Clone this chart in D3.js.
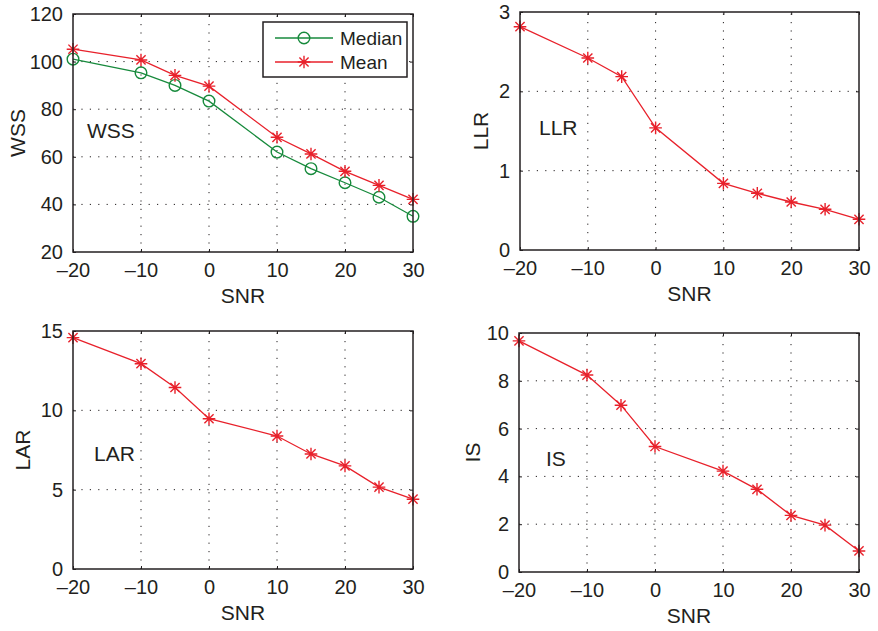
<!DOCTYPE html>
<html>
<head>
<meta charset="utf-8">
<script src="https://cdn.jsdelivr.net/npm/d3@7/dist/d3.min.js"></script>
<style>
  html, body { margin: 0; padding: 0; background: #fff; }
  svg { display: block; font-family: "Liberation Sans", Arial, Helvetica, sans-serif; }
  .tick text { fill: #231f20; }
</style>
</head>
<body>
<svg id="chart" width="878" height="631"></svg>
<script>
// SNR levels (dB) shared by every panel
const snr = [-20, -10, -5, 0, 10, 15, 20, 25, 30];
const snrTicks = [-20, -10, 0, 10, 20, 30];

// Objective speech-quality measures versus SNR
const wssMedian = [101, 95.3, 90, 83.4, 62, 55, 49.1, 43, 35];
const wssMean   = [105.2, 100.7, 94.2, 89.7, 68.2, 61.2, 53.9, 48, 42.1];
const llrMean   = [2.815, 2.42, 2.185, 1.54, 0.84, 0.715, 0.605, 0.513, 0.387];
const larMean   = [14.58, 12.94, 11.44, 9.47, 8.38, 7.25, 6.5, 5.16, 4.4];
const isMean    = [9.67, 8.24, 6.98, 5.25, 4.22, 3.46, 2.37, 1.96, 0.88];

// Y-axis ticks for each panel
const wssTicks = [20, 40, 60, 80, 100, 120];
const llrTicks = [0, 1, 2, 3];
const larTicks = [0, 5, 10, 15];
const isTicks  = [0, 2, 4, 6, 8, 10];

const RED = "#e8212b";
const GREEN = "#178a3c";
const INK = "#231f20";

const svg = d3.select("#chart");

const panels = [
  { name: "WSS", box: [73, 14, 413, 252], yDomain: [20, 120], yTicks: wssTicks,
    series: [{ values: wssMedian, color: GREEN, marker: "circle" },
             { values: wssMean, color: RED, marker: "star" }],
    ylabelX: 17, note: [87, 138], legend: true },
  { name: "LLR", box: [520, 12, 859, 250], yDomain: [0, 3], yTicks: llrTicks,
    series: [{ values: llrMean, color: RED, marker: "star" }],
    ylabelX: 480, note: [539, 135] },
  { name: "LAR", box: [73, 331, 413, 569], yDomain: [0, 15], yTicks: larTicks,
    series: [{ values: larMean, color: RED, marker: "star" }],
    ylabelX: 22, note: [94, 461] },
  { name: "IS", box: [519, 333, 859, 572], yDomain: [0, 10], yTicks: isTicks,
    series: [{ values: isMean, color: RED, marker: "star" }],
    ylabelX: 472, note: [546, 466] }
];

function drawMarker(sel, type, color) {
  if (type === "circle") {
    sel.append("circle").attr("r", 5.8)
      .attr("fill", "none").attr("stroke", color).attr("stroke-width", 1.4);
  } else {
    const r = 6.3, d = 4.6;
    sel.append("path")
      .attr("d", `M${-r},0H${r}M0,${-r}V${r}M${-d},${-d}L${d},${d}M${-d},${d}L${d},${-d}`)
      .attr("fill", "none").attr("stroke", color).attr("stroke-width", 1.4);
  }
}

panels.forEach(p => {
  const [x0, y0, x1, y1] = p.box;
  const x = d3.scaleLinear().domain([-20, 30]).range([x0, x1]);
  const y = d3.scaleLinear().domain(p.yDomain).range([y1, y0]);
  const g = svg.append("g");

  // dotted grid
  const grid = g.append("g").attr("stroke", INK).attr("stroke-width", 1)
    .attr("stroke-dasharray", "1.2,7.2");
  snrTicks.slice(1, -1).forEach(t => {
    grid.append("line").attr("x1", x(t)).attr("x2", x(t)).attr("y1", y1).attr("y2", y0);
  });
  p.yTicks.slice(1, -1).forEach(t => {
    grid.append("line").attr("x1", x0).attr("x2", x1).attr("y1", y(t)).attr("y2", y(t));
  });

  // axes with inward ticks
  const fmt = v => (v < 0 ? "\u2013" + Math.abs(v) : String(v));
  const styleAxis = a => {
    a.select(".domain").remove();
    a.selectAll(".tick line").attr("stroke", INK).attr("stroke-width", 1);
    a.selectAll(".tick text").attr("font-size", 20).attr("fill", INK);
  };
  g.append("g").attr("transform", `translate(0,${y1})`)
    .call(d3.axisBottom(x).tickValues(snrTicks).tickFormat(fmt).tickSize(-3).tickPadding(11))
    .call(styleAxis);
  g.append("g").attr("transform", `translate(0,${y0})`)
    .call(d3.axisTop(x).tickValues(snrTicks).tickFormat("").tickSize(-3))
    .call(styleAxis);
  g.append("g").attr("transform", `translate(${x0},0)`)
    .call(d3.axisLeft(y).tickValues(p.yTicks).tickFormat(fmt).tickSize(-3).tickPadding(10))
    .call(styleAxis);
  g.append("g").attr("transform", `translate(${x1},0)`)
    .call(d3.axisRight(y).tickValues(p.yTicks).tickFormat("").tickSize(-3))
    .call(styleAxis);

  // series
  p.series.forEach(s => {
    const pts = snr.map((v, i) => [v, s.values[i]]);
    g.append("path").datum(pts)
      .attr("d", d3.line().x(d => x(d[0])).y(d => y(d[1])))
      .attr("fill", "none").attr("stroke", s.color).attr("stroke-width", 1.3);
    g.selectAll(null).data(pts).enter().append("g")
      .attr("transform", d => `translate(${x(d[0])},${y(d[1])})`)
      .each(function () { drawMarker(d3.select(this), s.marker, s.color); });
  });

  // frame
  g.append("rect").attr("x", x0).attr("y", y0).attr("width", x1 - x0).attr("height", y1 - y0)
    .attr("fill", "none").attr("stroke", INK).attr("stroke-width", 1.5);

  // labels
  g.append("text").attr("x", (x0 + x1) / 2).attr("y", y1 + 51)
    .attr("text-anchor", "middle").attr("font-size", 21).attr("fill", INK).text("SNR");
  g.append("text")
    .attr("transform", `translate(${p.ylabelX + 7.5},${(y0 + y1) / 2}) rotate(-90)`)
    .attr("text-anchor", "middle").attr("font-size", 21).attr("fill", INK).text(p.name);
  g.append("text").attr("x", p.note[0]).attr("y", p.note[1])
    .attr("font-size", 21).attr("fill", INK).text(p.name);

  // legend
  if (p.legend) {
    const lg = g.append("g");
    lg.append("rect").attr("x", 263).attr("y", 22).attr("width", 144).attr("height", 55)
      .attr("fill", "#fff").attr("stroke", INK).attr("stroke-width", 1.5);
    const items = [["Median", GREEN, "circle", 38], ["Mean", RED, "star", 62]];
    items.forEach(([label, color, marker, ly]) => {
      lg.append("line").attr("x1", 275).attr("x2", 333).attr("y1", ly).attr("y2", ly)
        .attr("stroke", color).attr("stroke-width", 1.3);
      drawMarker(lg.append("g").attr("transform", `translate(304,${ly})`), marker, color);
      lg.append("text").attr("x", 340).attr("y", ly + 7).attr("font-size", 19)
        .attr("fill", INK).text(label);
    });
  }
});
</script>
</body>
</html>
